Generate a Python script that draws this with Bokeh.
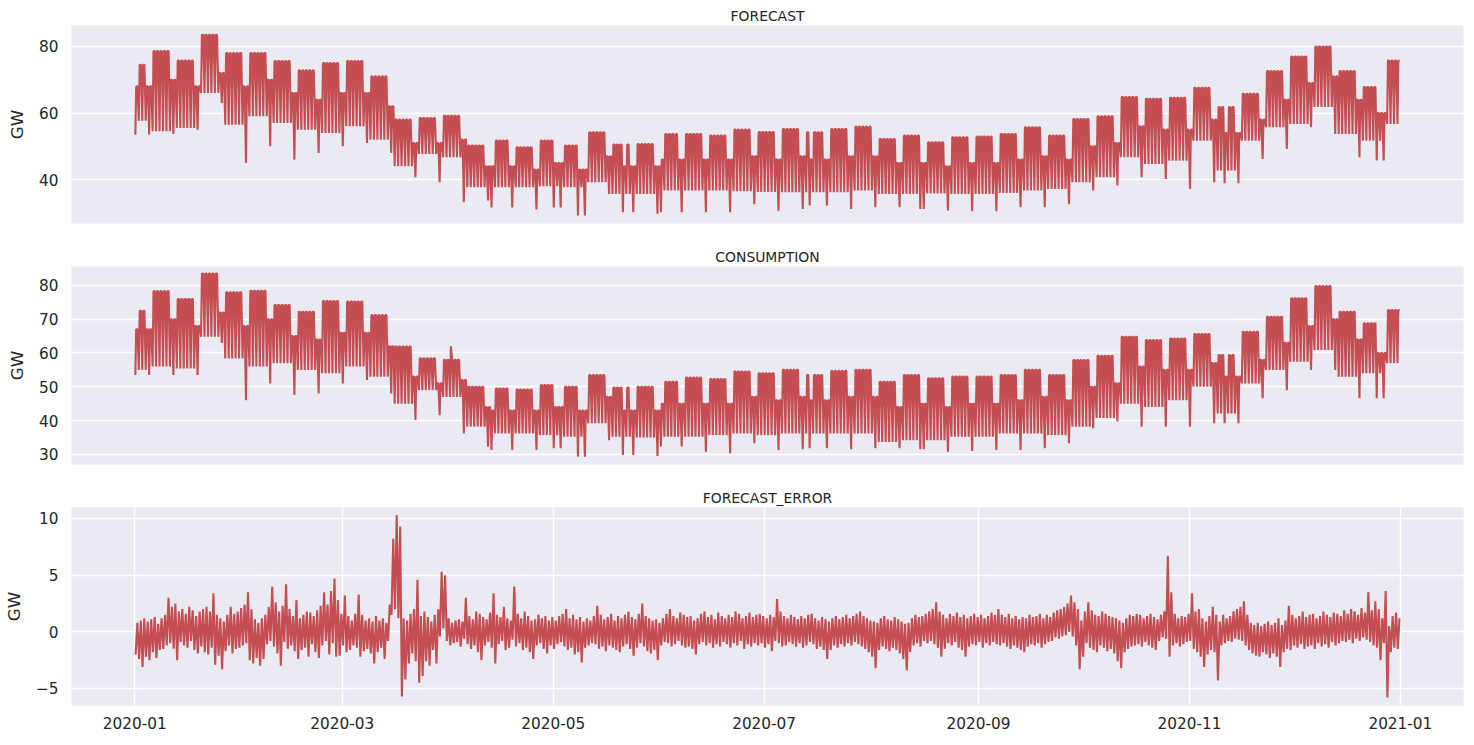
import numpy as np
import pandas as pd
from bokeh.plotting import figure
from bokeh.layouts import column
from bokeh.models import Range1d, FixedTicker, DatetimeTickFormatter, ColumnDataSource
from bokeh.embed import file_html
from bokeh.resources import INLINE

# ---------------- data ----------------
TITLES = ["FORECAST", "CONSUMPTION", "FORECAST_ERROR"]
Y_LABEL = "GW"
X_TICK_LABELS = ["2020-01", "2020-03", "2020-05", "2020-07", "2020-09", "2020-11", "2021-01"]
HOLIDAYS = ["2020-01-01", "2020-04-13", "2020-05-01", "2020-05-08", "2020-05-21", "2020-06-01",
            "2020-07-14", "2020-08-15", "2020-11-01", "2020-11-11", "2020-12-25"]

# weekly values (weeks starting Monday 2019-12-30), GW
F_HI_WD = [74.5, 78.6, 75.8, 83.5, 78.0, 78.0, 75.6, 72.8, 75.0, 75.6, 71.0, 58.0, 58.5, 59.2, 50.2, 51.7,
           49.7, 51.7, 50.2, 54.2, 50.5, 50.7, 53.7, 53.7, 53.2, 55.0, 54.3, 55.2, 54.2, 55.2, 55.9, 52.2,
           53.2, 51.2, 52.7, 52.9, 53.7, 55.7, 53.2, 58.2, 59.0, 64.8, 64.3, 64.6, 67.6, 61.8, 65.8, 72.6,
           77.0, 80.0, 72.6, 67.8, 75.8]
F_LO_WD = [57.7, 54.5, 55.5, 66.0, 56.5, 59.0, 57.0, 55.0, 54.0, 56.0, 52.0, 44.0, 47.7, 46.7, 37.7, 37.7,
           37.7, 38.0, 37.7, 39.2, 35.7, 35.7, 36.7, 36.7, 36.7, 36.5, 36.3, 36.2, 36.2, 36.2, 36.7, 35.7,
           35.7, 35.8, 35.7, 35.7, 36.0, 36.7, 37.2, 39.2, 40.7, 46.7, 44.7, 45.7, 51.7, 42.7, 51.7, 55.7,
           56.7, 61.8, 53.7, 51.7, 56.7]
F_HI_WE = [68.0, 70.0, 68.0, 72.0, 68.0, 70.0, 66.0, 64.0, 66.0, 66.0, 62.0, 51.0, 51.0, 52.0, 44.0, 44.0,
           43.0, 45.0, 43.0, 47.0, 44.0, 44.0, 46.0, 46.0, 46.0, 47.0, 46.0, 47.0, 46.0, 47.0, 47.0, 45.0,
           45.0, 44.0, 45.0, 45.0, 46.0, 47.0, 46.0, 50.0, 51.0, 56.0, 55.0, 55.0, 58.0, 54.0, 58.0, 64.0,
           69.0, 71.0, 64.0, 60.0, 66.0]
F_LO_WE = [53.5, 53.7, 55.0, 63.0, 45.0, 50.0, 46.0, 48.0, 50.0, 51.0, 48.0, 40.7, 39.2, 33.2, 33.7, 31.6,
           31.0, 31.6, 29.2, 35.7, 30.2, 29.7, 30.2, 30.2, 30.2, 32.6, 30.6, 31.2, 32.2, 31.2, 31.7, 31.7,
           31.2, 30.7, 30.5, 30.5, 31.7, 31.7, 32.6, 36.7, 38.2, 40.7, 40.2, 37.2, 39.2, 38.9, 46.2, 49.2,
           55.7, 53.7, 46.7, 45.7, 56.7]

C_HI_WD = [72.5, 78.3, 76.0, 83.5, 78.0, 78.4, 74.2, 72.2, 75.4, 75.2, 71.2, 61.9, 58.4, 58.0, 50.0, 49.5,
           49.2, 50.5, 50.0, 53.5, 49.8, 50.0, 51.5, 52.7, 52.3, 54.5, 54.0, 55.0, 53.5, 54.7, 55.0, 51.5,
           53.5, 52.5, 53.0, 53.0, 53.5, 55.0, 53.5, 57.9, 59.2, 64.8, 63.8, 64.3, 65.6, 59.4, 66.3, 70.7,
           76.2, 79.8, 72.2, 68.8, 72.7]
C_LO_WD = [55.0, 56.0, 55.4, 64.8, 58.4, 56.0, 57.0, 55.0, 54.0, 56.0, 53.0, 45.0, 49.0, 47.0, 38.2, 36.2,
           36.2, 35.7, 35.2, 39.2, 35.2, 35.0, 35.2, 35.2, 35.7, 36.2, 35.7, 36.2, 36.2, 36.2, 36.2, 33.7,
           34.2, 34.2, 35.2, 35.2, 36.2, 36.2, 35.7, 38.2, 40.8, 45.0, 44.0, 46.0, 50.0, 42.1, 51.0, 55.0,
           57.4, 60.9, 53.0, 54.0, 57.0]
C_HI_WE = [67.0, 70.0, 68.0, 72.0, 68.0, 70.0, 65.0, 64.0, 66.0, 66.0, 62.0, 53.0, 51.0, 52.0, 44.0, 43.0,
           43.0, 44.0, 43.0, 47.0, 43.0, 43.0, 45.0, 45.0, 45.0, 47.0, 46.0, 47.0, 46.0, 47.0, 47.0, 44.0,
           45.0, 44.0, 45.0, 45.0, 46.0, 47.0, 46.0, 50.0, 51.0, 56.0, 55.0, 55.0, 57.0, 53.0, 58.0, 63.0,
           68.0, 70.0, 64.0, 60.0, 65.0]
C_LO_WE = [53.5, 53.5, 53.5, 63.0, 46.0, 51.0, 47.6, 48.0, 51.0, 52.0, 48.0, 40.2, 41.6, 36.2, 32.3, 31.3,
           31.3, 31.8, 29.3, 34.2, 29.8, 29.5, 32.3, 30.8, 30.3, 33.3, 31.3, 31.5, 31.8, 31.5, 31.8, 31.8,
           31.5, 30.8, 31.0, 31.3, 31.3, 31.8, 33.3, 37.7, 39.7, 38.2, 38.2, 38.2, 39.2, 39.2, 46.6, 49.0,
           55.0, 55.0, 46.6, 46.6, 57.0]
# single-day consumption spike seen on 2020-04-01
C_SPIKES = {"2020-04-01": 62.0}

# daily forecast error extremes, 2020-01-01 .. 2020-12-31, GW
E_HI = [
    0.8, 1.0, 1.2, 0.9, 1.1, 1.3, 0.7, 1.2, 1.5, 3.0,
    2.2, 2.5, 1.8, 2.0, 1.6, 2.2, 1.9, 1.4, 1.8, 2.0,
    2.2, 1.8, 3.4, 1.5, 1.2, 0.9, 1.5, 2.2, 1.6, 1.8,
    2.1, 2.4, 3.5, 2.0, 1.1, 0.8, 1.2, 1.5, 2.2, 4.0,
    2.6, 1.8, 2.3, 4.2, 2.0, 1.4, 2.8, 1.2, 1.5, 1.8,
    1.7, 1.4, 1.9, 2.3, 3.5, 2.4, 3.6, 4.7, 2.8, 1.6,
    3.2, 1.4, 1.0, 1.6, 3.3, 1.5, 1.0, 1.2, 0.9, 1.4,
    1.0, 1.2, 0.8, 2.4, 8.2, 10.3, 9.3, 1.2, 1.0, 1.6,
    2.0, 4.6, 1.4, 1.8, 1.3, 0.9, 1.5, 2.0, 5.3, 5.0,
    1.2, 0.8, 1.0, 1.1, 0.9, 3.0, 1.4, 1.1, 1.8, 1.6,
    1.3, 1.1, 1.7, 3.4, 1.5, 1.3, 2.2, 1.2, 1.0, 4.0,
    1.6, 1.2, 1.8, 1.4, 1.0, 1.1, 1.5, 1.2, 1.4, 1.0,
    1.3, 1.0, 1.4, 1.6, 2.0, 1.2, 1.5, 1.1, 1.3, 0.9,
    1.2, 1.0, 1.4, 2.3, 1.5, 1.1, 1.3, 1.6, 1.0, 1.4,
    1.2, 1.5, 1.8, 1.3, 1.1, 1.6, 2.5, 1.4, 1.2, 1.0,
    1.1, 0.8, 1.2, 1.6, 2.0, 1.4, 1.2, 1.7, 1.5, 1.3,
    1.4, 1.0, 1.2, 1.6, 1.8, 1.3, 1.5, 1.1, 1.7, 1.4,
    1.2, 1.5, 1.3, 1.8, 1.6, 1.2, 1.4, 1.7, 1.3, 1.5,
    1.6, 1.4, 1.2, 1.5, 1.3, 2.9, 1.8, 1.4, 1.2, 1.5,
    1.3, 1.1, 1.4, 1.2, 1.5, 1.6, 1.2, 1.0, 1.3, 1.1,
    0.9, 1.2, 1.4, 1.1, 1.3, 1.5, 1.2, 1.4, 1.6, 1.8,
    1.4, 1.2, 1.0, 0.9, 0.8, 1.2, 1.4, 1.1, 1.0, 1.3,
    1.1, 0.9, 0.7, 0.8, 1.2, 1.5, 1.3, 1.4, 1.6, 1.8,
    2.0, 2.6, 1.8, 1.5, 1.2, 1.6, 1.4, 1.7, 1.3, 1.5,
    1.2, 1.4, 1.6, 1.3, 1.5, 1.2, 1.4, 1.7, 1.5, 2.0,
    1.5, 1.3, 1.6, 1.2, 1.4, 1.1, 1.3, 1.2, 1.5, 1.3,
    1.4, 1.6, 1.2, 1.5, 1.3, 1.7, 1.9, 2.0, 2.2, 2.5,
    3.2, 2.6, 2.0, 1.0, 1.8, 2.6, 1.9, 1.5, 1.4, 1.8,
    1.6, 1.4, 1.3, 1.2, 1.0, 0.8, 1.2, 1.5, 1.4, 1.6,
    1.5, 1.2, 1.4, 1.6, 1.3, 1.1, 1.5, 1.8, 6.7, 3.5,
    1.6, 1.2, 1.4, 1.3, 1.6, 3.4, 1.8, 2.0, 1.2, 0.9,
    1.4, 2.2, 1.5, 0.9, 1.5, 1.2, 1.4, 1.8, 2.0, 2.2,
    2.7, 1.5, 0.8, 0.6, 0.8, 0.5, 0.7, 0.9, 0.6, 0.8,
    1.2, 0.6, 1.0, 2.3, 1.5, 1.2, 1.4, 1.8, 1.3, 1.5,
    1.6, 1.2, 1.4, 1.8, 1.5, 1.3, 1.7, 1.6, 1.4, 1.9,
    1.6, 2.0, 1.8, 1.5, 2.1, 1.7, 3.5, 1.9, 2.7, 2.0,
    1.2, 3.6, 0.5, 1.4, 1.7, 1.2]
E_LO = [
    -2.0, -2.4, -3.1, -2.2, -2.5, -1.8, -2.3, -1.6, -1.5, -1.2,
    -1.0, -1.5, -2.5, -0.9, -1.2, -1.4, -0.8, -1.6, -1.9, -1.3,
    -1.8, -2.0, -1.4, -2.9, -2.1, -3.3, -1.7, -1.2, -1.9, -1.5,
    -1.4, -1.2, -1.0, -2.5, -2.8, -2.3, -3.0, -2.4, -1.1, -0.8,
    -1.3, -1.9, -3.0, -0.9, -1.5, -1.2, -1.7, -2.4, -1.6, -1.4,
    -2.2, -1.1, -1.8, -2.3, -1.2, -0.8, -2.0, -1.0, -2.2, -2.1,
    -1.2, -1.8, -1.6, -1.2, -1.4, -2.2, -1.7, -1.5, -1.9, -2.8,
    -1.8, -1.4, -2.4, -0.8, 1.5, 2.0, 1.2, -5.7, -4.2, -2.8,
    -1.9, -2.6, -4.5, -3.9, -2.6, -3.0, -1.6, -2.8, -0.4, 0.3,
    -0.8, -1.2, -1.0, -0.9, -1.3, -0.6, -1.1, -1.5, -1.2, -1.8,
    -2.5, -1.2, -0.9, -1.4, -2.8, -1.1, -0.8, -1.6, -1.4, -0.7,
    -1.3, -1.0, -1.6, -1.4, -1.8, -2.4, -1.2, -1.0, -1.5, -1.9,
    -1.2, -1.5, -1.1, -0.9, -1.3, -1.6, -1.4, -2.0, -1.8, -2.7,
    -1.4, -1.2, -1.0, -1.1, -1.5, -1.3, -1.7, -1.2, -1.4, -1.6,
    -1.8, -1.3, -1.1, -1.5, -2.1, -1.4, -1.0, -1.3, -1.7, -1.9,
    -1.6, -2.5, -1.2, -0.9, -1.0, -1.3, -1.1, -0.8, -1.2, -1.4,
    -1.3, -1.5, -2.0, -1.1, -0.9, -1.2, -1.0, -1.4, -1.1, -1.3,
    -0.9, -1.1, -1.4, -1.0, -1.2, -0.8, -1.5, -1.1, -1.3, -1.0,
    -1.2, -1.0, -1.4, -1.1, -1.7, -0.8, -1.0, -1.3, -1.2, -0.9,
    -1.1, -1.3, -1.0, -1.4, -1.2, -0.9, -1.1, -1.5, -1.3, -1.6,
    -2.4, -1.6, -1.2, -1.4, -1.1, -1.3, -1.0, -1.2, -0.9, -1.1,
    -1.3, -1.5, -1.8, -2.2, -3.2, -1.6, -1.3, -1.5, -1.7, -1.4,
    -1.6, -1.9, -2.4, -3.4, -1.8, -1.2, -1.0, -1.3, -0.8, -1.0,
    -0.8, -1.1, -1.4, -2.2, -1.5, -1.0, -1.2, -0.9, -1.4, -1.6,
    -2.2, -1.3, -1.1, -1.2, -0.9, -1.4, -1.0, -1.2, -0.9, -1.1,
    -1.2, -1.0, -1.3, -1.5, -1.2, -1.4, -1.6, -1.8, -1.3, -1.1,
    -1.2, -1.0, -1.4, -1.1, -0.9, -0.8, -0.5, -0.6, -0.4, -0.3,
    0.0, -0.4, -1.2, -3.3, -2.2, -1.0, -1.4, -1.6, -1.8, -1.2,
    -1.4, -1.7, -1.5, -1.9, -2.6, -3.2, -1.8, -1.5, -1.3, -1.2,
    -1.1, -1.3, -0.9, -1.2, -1.4, -1.6, -0.8, -0.5, -0.6, -2.2,
    -1.2, -1.0, -1.3, -1.1, -0.9, -0.8, -1.5, -1.8, -2.2, -3.1,
    -2.0, -1.6, -1.8, -4.3, -1.2, -1.0, -0.8, -0.9, -0.6, -0.7,
    -0.8, -1.2, -1.6, -1.9, -2.1, -2.2, -1.8, -2.0, -2.3, -1.9,
    -2.2, -3.1, -1.8, -1.5, -1.6, -1.2, -1.4, -1.1, -1.5, -1.3,
    -1.2, -1.5, -1.0, -1.3, -1.1, -1.4, -0.9, -1.2, -1.0, -0.8,
    -0.9, -0.7, -1.0, -0.6, -0.8, -0.5, -0.7, -0.9, -1.2, -1.4,
    -2.5, -1.0, -5.8, -1.8, -1.4, -1.5]

# ---------------- build hourly-style paths ----------------
DAYS = pd.date_range("2020-01-01", "2020-12-31", freq="D")
WEEK0 = pd.Timestamp("2019-12-30")
HOL = set(pd.to_datetime(HOLIDAYS))
H = pd.Timedelta(hours=1)


def weekly_path(hi_wd, lo_wd, hi_we, lo_we, spikes=None):
    spikes = {pd.Timestamp(k): v for k, v in (spikes or {}).items()}
    xs, ys = [], []
    for d in DAYS:
        k = (d - WEEK0).days // 7
        if d.weekday() == 6 or d in HOL:
            lo, hi = lo_we[k], hi_we[k]
        elif d.weekday() == 5:
            lo, hi = lo_wd[k], hi_we[k]
        else:
            lo, hi = lo_wd[k], hi_wd[k]
        top = spikes.get(d, hi)
        # night trough, morning peak, evening peak
        xs += [d + 4 * H, d + 10 * H, d + 19 * H]
        ys += [lo, top, hi]
    return pd.to_datetime(xs), ys


def daily_path(hi, lo):
    xs, ys = [], []
    for i, d in enumerate(DAYS):
        xs += [d + 6 * H, d + 18 * H]
        ys += [lo[i], hi[i]]
    return pd.to_datetime(xs), ys


series = [
    weekly_path(F_HI_WD, F_LO_WD, F_HI_WE, F_LO_WE),
    weekly_path(C_HI_WD, C_LO_WD, C_HI_WE, C_LO_WE, C_SPIKES),
    daily_path(E_HI, E_LO),
]

t0 = pd.Timestamp("2020-01-01 00:00")
t1 = pd.Timestamp("2020-12-31 23:00")
pad = (t1 - t0) * 0.05
X_RANGE = Range1d(start=t0 - pad, end=t1 + pad)

TEXT = "#262626"
BG = "#EAEAF2"
LINE = "#C44E52"
FONT = "DejaVu Sans"

Y_RANGES = [(26.8, 86.3), (27.0, 85.6), (-6.5, 10.97)]
Y_TICKS = [[40, 60, 80], [30, 40, 50, 60, 70, 80], [-5, 0, 5, 10]]
HEIGHTS = [244, 241, 260]
TOPS = [25, 22, 22]
BOTTOMS = [21, 21, 40]

figs = []
for i in range(3):
    p = figure(width=1474, height=HEIGHTS[i], x_axis_type="datetime", x_range=X_RANGE,
               y_range=Range1d(*Y_RANGES[i]), output_backend="svg", toolbar_location=None,
               min_border_left=70, min_border_right=11, min_border_top=TOPS[i],
               min_border_bottom=BOTTOMS[i], background_fill_color=BG, border_fill_color="white",
               outline_line_color=None)
    p.title.text = TITLES[i]
    p.title.align = "center"
    p.title.text_font = FONT
    p.title.text_font_size = "13.9px"
    p.title.text_font_style = "normal"
    p.title.text_color = TEXT
    p.title.standoff = 4

    xs, ys = series[i]
    src = ColumnDataSource(dict(x=xs, y=ys))
    p.line("x", "y", source=src, line_color=LINE, line_width=2.1)

    p.yaxis.ticker = FixedTicker(ticks=Y_TICKS[i])
    p.yaxis.major_label_overrides = {t: str(t).replace("-", "\u2212") for t in Y_TICKS[i] if t < 0}
    p.yaxis.axis_label = Y_LABEL
    p.yaxis.axis_label_text_font = FONT
    p.yaxis.axis_label_text_font_size = "16.7px"
    p.yaxis.axis_label_text_font_style = "normal"
    p.yaxis.axis_label_text_color = TEXT
    p.yaxis.axis_label_standoff = 9
    for ax in (p.xaxis, p.yaxis):
        ax.axis_line_color = None
        ax.major_tick_line_color = None
        ax.minor_tick_line_color = None
        ax.major_tick_out = 0
        ax.major_tick_in = 0
        ax.minor_tick_out = 0
        ax.major_label_text_font = FONT
        ax.major_label_text_font_size = "15.3px"
        ax.major_label_text_color = TEXT
    p.yaxis.major_label_standoff = 13
    p.xaxis.major_label_standoff = 11

    p.ygrid.grid_line_color = "white"
    p.ygrid.grid_line_width = 1.4
    if i < 2:
        p.xaxis.visible = False
        p.xgrid.visible = False
    else:
        ticks = [pd.Timestamp(lbl + "-01").value // 10**6 for lbl in X_TICK_LABELS]
        p.xaxis.ticker = FixedTicker(ticks=ticks)
        fmt = "%Y-%m"
        p.xaxis.formatter = DatetimeTickFormatter(years=fmt, months=fmt, days=fmt, hours=fmt,
                                                  minutes=fmt, seconds=fmt, milliseconds=fmt,
                                                  microseconds=fmt)
        p.xgrid.ticker = FixedTicker(ticks=ticks)
        p.xgrid.grid_line_color = "white"
        p.xgrid.grid_line_width = 1.4
    figs.append(p)

layout = column(*figs, spacing=0)
open("out.html", "w").write(file_html(layout, INLINE))
